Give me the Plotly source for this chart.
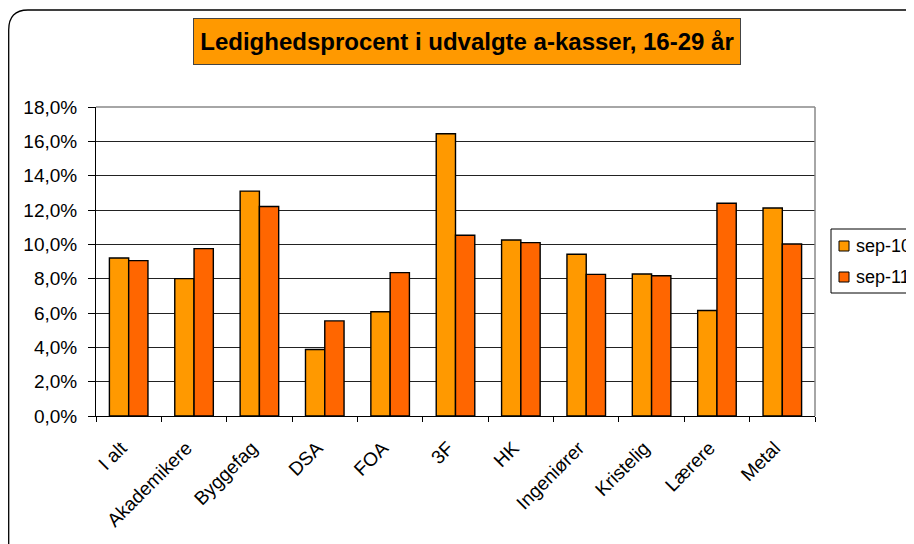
import plotly.graph_objects as go

categories = ["I alt", "Akademikere", "Byggefag", "DSA", "FOA", "3F", "HK",
              "Ingeniører", "Kristelig", "Lærere", "Metal"]
sep10 = [9.2, 8.0, 13.1, 3.87, 6.07, 16.44, 10.25, 9.42, 8.27, 6.15, 12.12]
sep11 = [9.05, 9.75, 12.2, 5.54, 8.35, 10.53, 10.1, 8.25, 8.17, 12.39, 10.02]
series_names = ["sep-10", "sep-11"]
series_colors = ["#FF9900", "#FF6600"]
y_ticks = [0, 2, 4, 6, 8, 10, 12, 14, 16, 18]

OFF = 8  # page body margin
W, H = 906, 536
L, R, T, B = 96 - OFF, 815 - OFF, 107 - OFF, 416 - OFF

def px(x):  # page pixel -> paper x
    return (x - OFF - L) / (R - L)

def py(y):  # page pixel -> paper y
    return (B - (y - OFF)) / (B - T)

FONT = "Liberation Sans, Arial, sans-serif"

fig = go.Figure()
for name, vals, col in zip(series_names, [sep10, sep11], series_colors):
    fig.add_trace(go.Bar(x=categories, y=vals, name=name, showlegend=False,
                         marker=dict(color=col, line=dict(color="#000000", width=1.4))))

fig.update_layout(
    width=W, height=H,
    margin=dict(l=L, r=W - R, t=T, b=H - B, autoexpand=False),
    paper_bgcolor="white", plot_bgcolor="white",
    barmode="group", bargap=0.41, bargroupgap=0,
    separators=",.",
    font=dict(family=FONT, size=19, color="#000"),
    xaxis=dict(type="category", tickangle=-45, tickson="boundaries",
               tickvals=categories,
               ticktext=[c + "\u00a0\u00a0" for c in categories],
               ticks="outside", ticklen=5, tickcolor="#000",
               showline=True, linecolor="#000", linewidth=1,
               showgrid=False, tickfont=dict(size=19), ticklabelstandoff=5),
    yaxis=dict(range=[0, 18], tickvals=y_ticks,
               ticktext=[f"{v},0%" for v in y_ticks],
               ticks="outside", ticklen=7, tickcolor="#000",
               showline=True, linecolor="#000", linewidth=1,
               showgrid=True, gridcolor="#222", gridwidth=1,
               tickfont=dict(size=19), zeroline=False, ticklabelstandoff=7),
)

# plot area border (top / right) in gray
fig.add_shape(type="line", xref="paper", yref="paper", x0=0, x1=1, y0=1, y1=1,
              line=dict(color="#888", width=1.5))
fig.add_shape(type="line", xref="paper", yref="paper", x0=1, x1=1, y0=0, y1=1,
              line=dict(color="#888", width=1.5))

# legend box with swatches and labels
fig.add_shape(type="rect", xref="paper", yref="paper",
              x0=px(831), x1=px(930), y0=py(229), y1=py(293),
              line=dict(color="#000", width=1), fillcolor="white")
for i, (name, col) in enumerate(zip(series_names, series_colors)):
    yc = 246 + 31 * i
    fig.add_shape(type="rect", xref="paper", yref="paper",
                  x0=px(839), x1=px(849), y0=py(yc - 5), y1=py(yc + 5),
                  line=dict(color="#000", width=1), fillcolor=col)
    fig.add_annotation(xref="paper", yref="paper", x=px(854), y=py(yc),
                       xanchor="left", yanchor="middle", showarrow=False,
                       text=name, font=dict(size=18, color="#000", family=FONT))

# outer rounded frame
path = (f"M {px(8.7)},{py(560)} L {px(8.7)},{py(30)} "
        f"Q {px(8.7)},{py(10)} {px(28)},{py(10)} L {px(930)},{py(10)}")
fig.add_shape(type="path", xref="paper", yref="paper", path=path,
              line=dict(color="#000", width=1.3))

# title box
fig.add_annotation(xref="paper", yref="paper", x=px(467), y=py(41.5),
                   xanchor="center", yanchor="middle",
                   text="<b>Ledighedsprocent i udvalgte a-kasser, 16-29 år</b>",
                   showarrow=False, bgcolor="#FF9900", bordercolor="#444",
                   borderwidth=1, width=542, height=41, borderpad=2,
                   font=dict(size=24, color="#000", family=FONT))

fig.write_html("out.html")
